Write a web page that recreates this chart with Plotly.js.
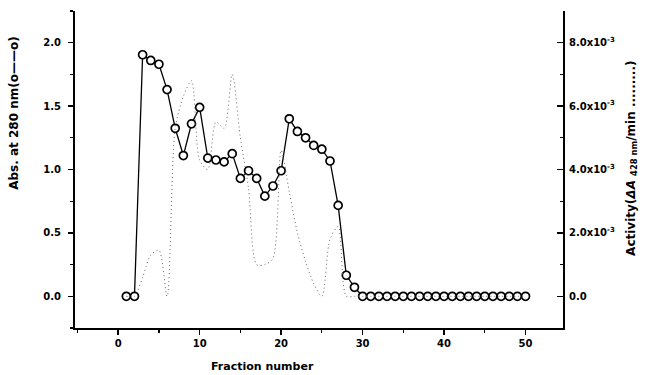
<!DOCTYPE html>
<html>
<head>
<meta charset="utf-8">
<script src="https://cdn.plot.ly/plotly-3.0.1.min.js"></script>
<style>html,body{margin:0;padding:0;background:#fff;}#chart{width:648px;height:375px;}</style>
</head>
<body>
<div id="chart"></div>
<script>
// Fraction numbers
const fractions = [1,2,3,4,5,6,7,8,9,10,11,12,13,14,15,16,17,18,19,20,21,22,23,24,25,26,27,28,29,30,31,32,33,34,35,36,37,38,39,40,41,42,43,44,45,46,47,48,49,50];
// Absorbance at 280 nm
const abs280 = [0,0,1.905,1.86,1.83,1.63,1.325,1.11,1.36,1.49,1.09,1.075,1.06,1.125,0.93,0.99,0.93,0.79,0.87,0.99,1.40,1.30,1.25,1.19,1.16,1.067,0.717,0.166,0.071,0,0,0,0,0,0,0,0,0,0,0,0,0,0,0,0,0,0,0,0,0];
// Activity (x10^-3)
const activity = [0,0,0.6,1.3,1.45,0,5.3,6.3,6.8,4.3,4.0,5.5,5.3,7.0,5.0,3.4,1.0,1.0,1.2,4.6,3.3,2.0,1.1,0.4,0,1.8,2.2,0,0,0,0,0,0,0,0,0,0,0,0,0,0,0,0,0,0,0,0,0,0,0];
const xTickVals = [0,10,20,30,40,50];
const yTickVals = [0,0.5,1.0,1.5,2.0];
const yTickText = ['0.0','0.5','1.0','1.5','2.0'];
const y2TickVals = [0,2e-3,4e-3,6e-3,8e-3];
const y2TickText = ['0.0','2.0x10<sup>-3</sup>','4.0x10<sup>-3</sup>','6.0x10<sup>-3</sup>','8.0x10<sup>-3</sup>'];

const fam = 'DejaVu Sans, Arial, sans-serif';

const traces = [
  {
    x: fractions, y: activity.map(v => v*1e-3), yaxis:'y2', type:'scatter', mode:'lines',
    line:{color:'#666', width:1, dash:'1px,3px', shape:'spline', smoothing:0.8},
    hoverinfo:'skip', showlegend:false
  },
  {
    x: fractions, y: abs280, type:'scatter', mode:'lines+markers',
    line:{color:'#000', width:1.3},
    marker:{symbol:'circle', size:8, color:'#fff', line:{color:'#000', width:1.7}},
    showlegend:false
  }
];

const layout = {
  width:648, height:375,
  margin:{l:75, r:85, t:11.4, b:47.4},
  paper_bgcolor:'#fff', plot_bgcolor:'#fff',
  font:{family:fam, color:'#000'},
  xaxis:{
    range:[-5.3,54.6], tickvals:xTickVals, ticks:'outside', ticklen:5, tickwidth:1.5, tickcolor:'#000',
    minor:{dtick:5, tick0:0, ticks:'outside', ticklen:3, tickwidth:1.2, tickcolor:'#000'},
    showline:true, linecolor:'#000', linewidth:2, showgrid:false, zeroline:false,
    tickfont:{family:fam, size:10, color:'#000', weight:'bold'}
  },
  yaxis:{
    range:[-0.25,2.25], tickvals:yTickVals, ticktext:yTickText, ticks:'outside', ticklen:5, tickwidth:1.5, tickcolor:'#000',
    minor:{dtick:0.25, tick0:0, ticks:'outside', ticklen:3, tickwidth:1.2, tickcolor:'#000'},
    showline:true, linecolor:'#000', linewidth:2, showgrid:false, zeroline:false,
    tickfont:{family:fam, size:10, color:'#000', weight:'bold'}, ticklabelstandoff:5
  },
  yaxis2:{
    overlaying:'y', side:'right', range:[-1e-3,9e-3], tickvals:y2TickVals, ticktext:y2TickText,
    ticks:'inside', ticklen:6, tickwidth:1.5, tickcolor:'#000',
    minor:{dtick:1e-3, tick0:0, ticks:'inside', ticklen:3, tickwidth:1.2, tickcolor:'#000'},
    showline:true, linecolor:'#000', linewidth:2, showgrid:false, zeroline:false,
    tickfont:{family:fam, size:10, color:'#000', weight:'bold'}, ticklabelstandoff:2
  },
  annotations:[
    {text:'Fraction number', xref:'paper', yref:'paper', x:0.385, y:-0.121, xanchor:'center', yanchor:'middle', showarrow:false,
     font:{family:fam, size:11, color:'#000', weight:'bold'}},
    {text:'Abs. at 280 nm(o——o)', xref:'paper', yref:'paper', x:-0.125, y:0.679, xanchor:'center', yanchor:'middle', showarrow:false, textangle:-90,
     font:{family:fam, size:12, color:'#000', weight:'bold'}},
    {text:'Activity(<i>ΔA</i> <sub>428 nm</sub>/min .........)', xref:'paper', yref:'paper', x:1.141, y:0.536, xanchor:'center', yanchor:'middle', showarrow:false, textangle:-90,
     font:{family:fam, size:12, color:'#000', weight:'bold'}}
  ]
};

Plotly.newPlot('chart', traces, layout, {displayModeBar:false, staticPlot:true});
</script>
</body>
</html>
